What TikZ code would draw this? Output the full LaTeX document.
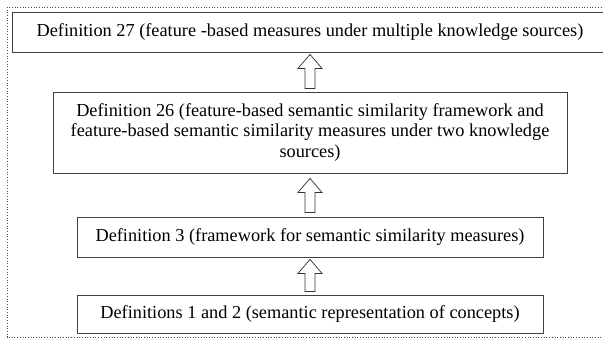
\documentclass[tikz,border=0pt]{standalone}
\usepackage{fontspec}
\setmainfont{Liberation Serif}
\usetikzlibrary{calc}

\tikzset{
  defbox/.style={draw=black!75, line width=0.9pt, fill=white, inner sep=0pt,
    align=center, font=\fontsize{18.3}{20.8}\selectfont},
  hollowarrow/.style={draw=black!80, line width=0.7pt, fill=white, line join=miter},
  outerframe/.style={draw=black!70, dotted, line width=0.7pt}
}

% hollow block arrow pointing up from node #1 to node #2;
% #3 = gap below the upper node, #4 = gap above the lower node
\newcommand\hollowup[4]{%
  \draw[hollowarrow]
    ($(#1.north)+(-5,-#4)$) -- ($(#1.north)+(5,-#4)$)
    -- ($(#2.south)+(5,#3+14)$) -- ($(#2.south)+(12,#3+14)$)
    -- ($(#2.south)+(0,#3)$)
    -- ($(#2.south)+(-12,#3+14)$) -- ($(#2.south)+(-5,#3+14)$) -- cycle;}

\begin{document}
\begin{tikzpicture}[x=1pt,y=-1pt]
\useasboundingbox (0,0) rectangle (603,339);
\clip (0,0) rectangle (603,339);

% dotted frame round the whole chain
\draw[outerframe] (7,7) rectangle (614,337);

% definition boxes, top to bottom
\node[defbox, minimum width=596pt, minimum height=40pt] (d27) at (310,32)
  {Definition 27 (feature -based measures under multiple knowledge sources)};
\node[defbox, minimum width=514pt, minimum height=81pt] (d26) at (310,132.5)
  {Definition 26 (feature-based semantic similarity framework and\\
   feature-based semantic similarity measures under two knowledge\\
   sources)};
\node[defbox, minimum width=466pt, minimum height=40pt] (d3) at (310,237)
  {Definition 3 (framework for semantic similarity measures)};
\node[defbox, minimum width=466pt, minimum height=38pt] (d12) at (310,314)
  {Definitions 1 and 2 (semantic representation of concepts)};

% arrows from each definition up to the one built on it
\hollowup{d26}{d27}{2}{3}
\hollowup{d3}{d26}{5}{4}
\hollowup{d12}{d3}{2}{3}
\end{tikzpicture}
\end{document}
